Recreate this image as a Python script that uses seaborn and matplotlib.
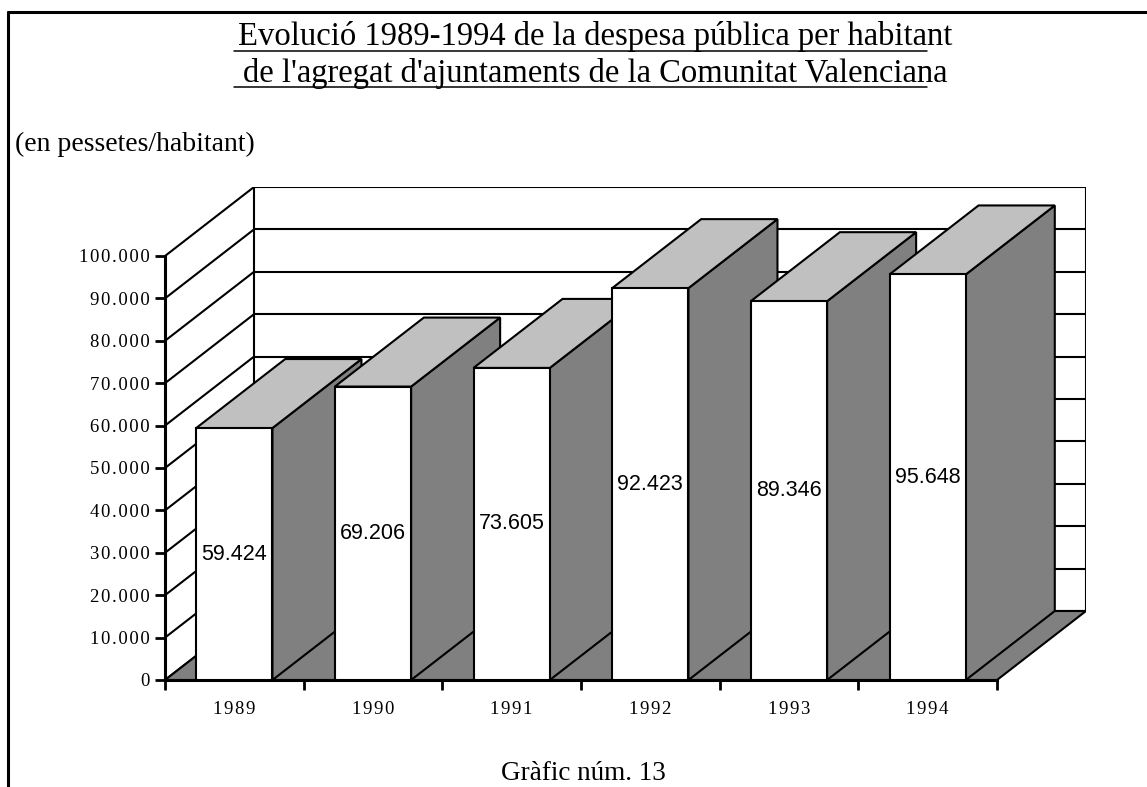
import numpy as np
import pandas as pd
import matplotlib
matplotlib.use('Agg')
import matplotlib.pyplot as plt
from matplotlib.patches import Polygon
from matplotlib.lines import Line2D
from matplotlib.ticker import FuncFormatter
import seaborn as sns

# --- data ---
years = ['1989', '1990', '1991', '1992', '1993', '1994']
despesa = [59424, 69206, 73605, 92423, 89346, 95648]
y_ticks = list(range(0, 100001, 10000))

title_lines = ["Evolució 1989-1994 de la despesa pública per habitant",
               "de l'agregat d'ajuntaments de la Comunitat Valenciana"]
unit_label = "(en pessetes/habitant)"
footer = "Gràfic núm. 13"

sns.set_theme(style='white')
plt.rcParams['font.family'] = ['Liberation Serif', 'DejaVu Serif']
for k in ['text.color', 'xtick.color', 'ytick.color', 'axes.labelcolor', 'axes.edgecolor']:
    plt.rcParams[k] = 'black'

W, H = 1147, 787
fig = plt.figure(figsize=(W / 100, H / 100), dpi=100)

# pixel geometry of the plot box (front axis + oblique depth)
x0, x1 = 165, 997      # front axis left / right
y0, ytop = 680, 256    # value 0 and 100.000 on the front axis
ddx, ddy = 89, 69      # depth offset in px

px_per_cat = (x1 - x0) / len(years)
px_per_val = (y0 - ytop) / 100000
DX = ddx / px_per_cat
DY = ddy / px_per_val
ax = fig.add_axes([x0 / W, 1 - y0 / H, (x1 + ddx - x0) / W, (y0 - ytop + ddy) / H])

df = pd.DataFrame({'any': years, 'despesa': despesa})
sns.barplot(data=df, x='any', y='despesa', color='white', saturation=1, width=0.55,
            edgecolor='black', linewidth=1.5, ax=ax)

n = len(years)
left, right = -0.5, n - 0.5
ymax = y_ticks[-1]
ax.set_xlim(left, right + DX)
ax.set_ylim(0, ymax + DY)

# floor
ax.add_patch(Polygon([(left, 0), (right, 0), (right + DX, DY), (left + DX, DY)],
                     closed=True, facecolor='#808080', edgecolor='black', lw=1.5, zorder=2))
# walls + gridlines
for v in y_ticks:
    ax.plot([left + DX, right + DX], [v + DY, v + DY], color='black', lw=1.5, zorder=1)
    ax.plot([left, left + DX], [v, v + DY], color='black', lw=1.5, zorder=1)
for xv in [left + DX, right + DX]:
    ax.plot([xv, xv], [DY, ymax + DY], color='black', lw=1.5, zorder=1)

# 3D faces of the bars
for i, p in enumerate(ax.patches[:n]):
    x, w, h = p.get_x(), p.get_width(), p.get_height()
    p.set_zorder(10 + 3 * i + 2)
    side = Polygon([(x + w, 0), (x + w + DX, DY), (x + w + DX, h + DY), (x + w, h)],
                   closed=True, facecolor='#808080', edgecolor='black', lw=1.5, zorder=10 + 3 * i)
    top = Polygon([(x, h), (x + w, h), (x + w + DX, h + DY), (x + DX, h + DY)],
                  closed=True, facecolor='#c0c0c0', edgecolor='black', lw=1.5, zorder=10 + 3 * i + 1)
    ax.add_patch(side)
    ax.add_patch(top)

labels = [f"{v:,}".replace(',', '.') for v in despesa]
texts = ax.bar_label(ax.containers[0], labels=labels, label_type='center',
                     fontsize=15.5, family='Liberation Sans')
for t in texts:
    t.set_zorder(50)

# axes
sns.despine(ax=ax, top=True, right=True)
ax.spines['left'].set_bounds(0, ymax)
ax.spines['bottom'].set_bounds(left, right)
for s in ['left', 'bottom']:
    ax.spines[s].set_linewidth(2.2)
    ax.spines[s].set_zorder(5)
ax.set_xlabel('')
ax.set_ylabel('')
ax.set_yticks(y_ticks)
ax.yaxis.set_major_formatter(FuncFormatter(
    lambda v, _: '\u200a'.join(f"{int(v):,}".replace(',', '.'))))
ax.tick_params(axis='y', left=True, direction='out', length=7, width=2, pad=4, labelsize=13.5)
ax.set_xticks(np.arange(left, right + 0.01, 1), minor=True)
ax.tick_params(axis='x', which='major', length=0, pad=15, labelsize=13.5)
ax.tick_params(axis='x', which='minor', bottom=True, direction='out', length=7, width=2)
ax.set_xticklabels(['\u200a'.join(y) for y in years])

# texts
fig.text(595 / W, 1 - 45 / H, title_lines[0], ha='center', va='baseline', fontsize=23.5)
fig.text(595 / W, 1 - 82 / H, title_lines[1], ha='center', va='baseline', fontsize=23.5)
for yy in [50.7, 87.3]:
    fig.add_artist(Line2D([234 / W, 927 / W], [1 - yy / H] * 2, color='black', lw=1.1))
fig.text(15 / W, 1 - 151 / H, unit_label, ha='left', va='baseline', fontsize=20)
fig.text(583 / W, 1 - 780 / H, footer, ha='center', va='baseline', fontsize=19.5)

# frame
fig.add_artist(Line2D([8 / W, 8 / W], [0, 1 - 12 / H], color='black', lw=2.2))
fig.add_artist(Line2D([8 / W, 1], [1 - 12 / H] * 2, color='black', lw=2.2))

fig.savefig('out.png', dpi=100)
